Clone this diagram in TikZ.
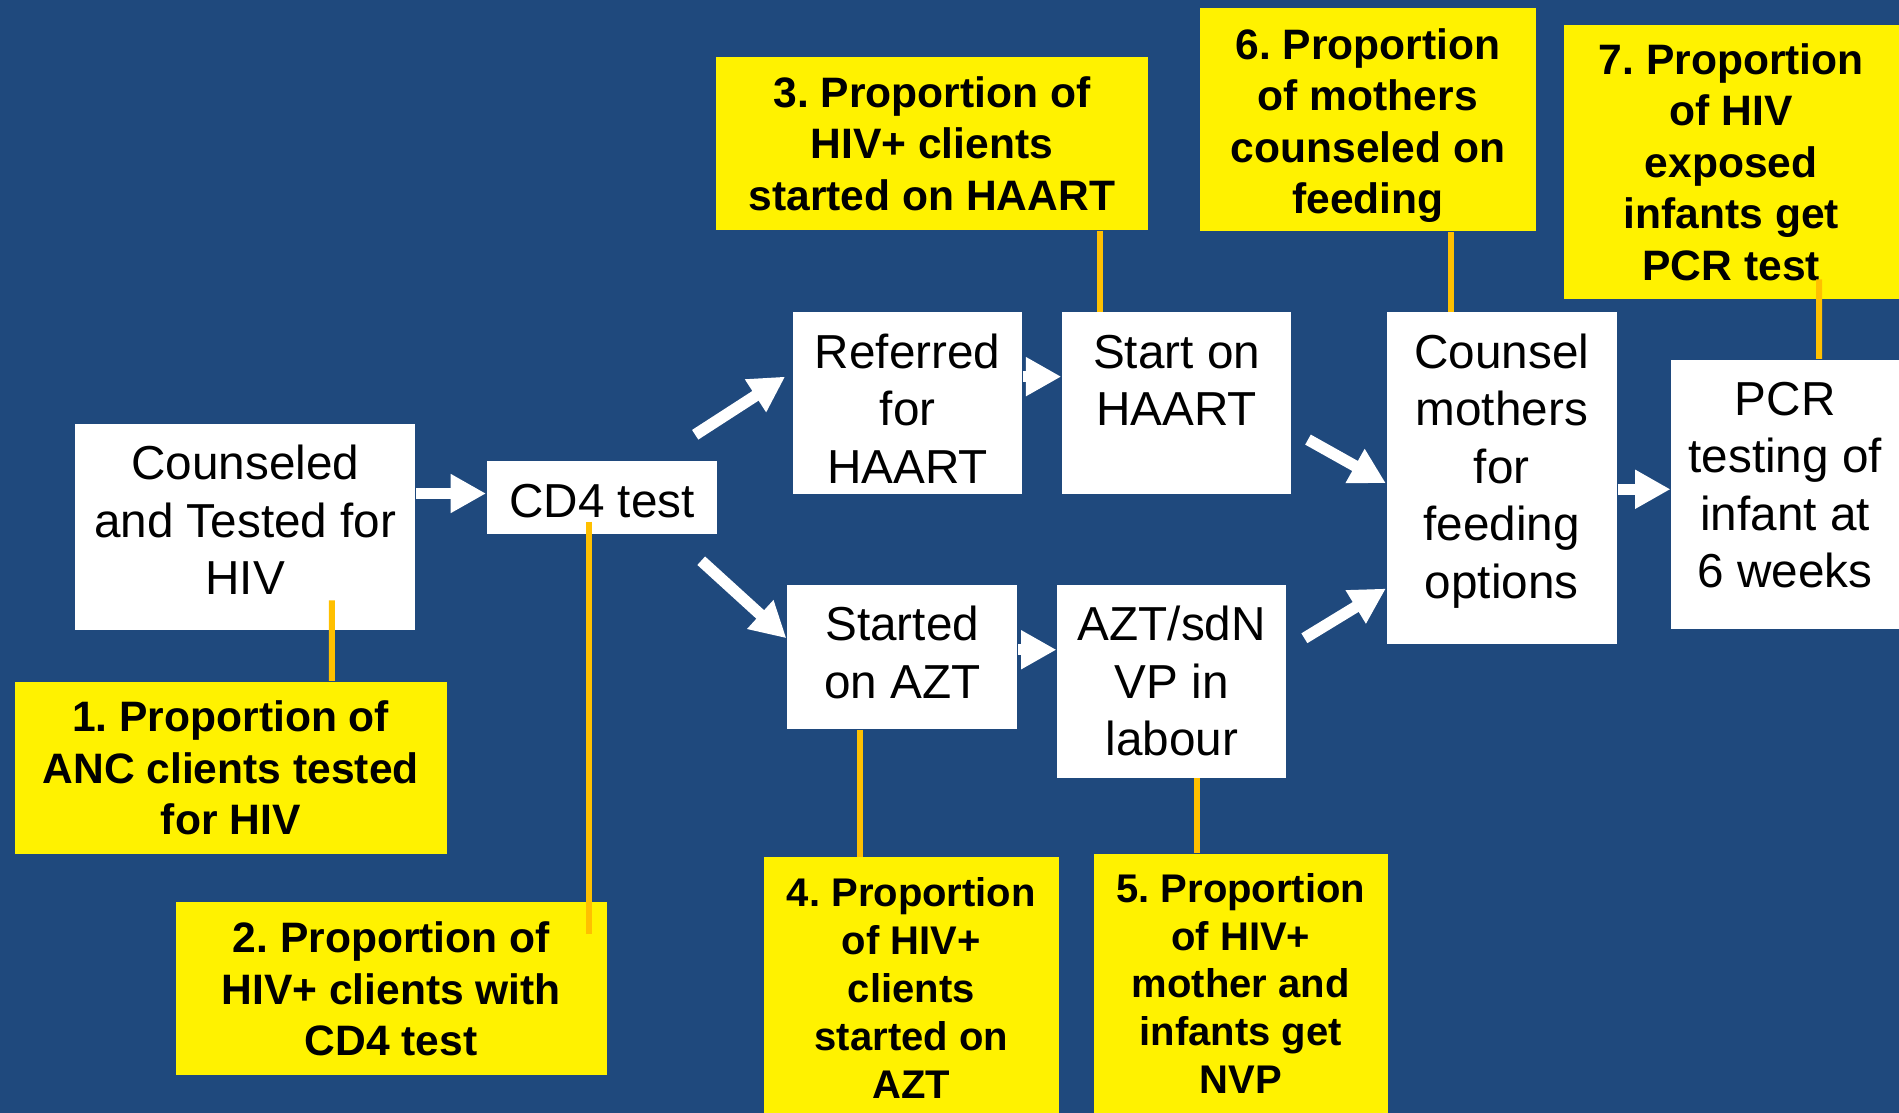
\documentclass[tikz,border=0pt]{standalone}
\usepackage{fontspec}
\setmainfont{Liberation Sans}
\frenchspacing
\usetikzlibrary{arrows.meta,calc}
\definecolor{bg}{HTML}{1F497D}
\definecolor{gold}{HTML}{FFC000}
\newcommand{\wtext}[3]{\parbox[c][#2][t]{#1}{\centering\fontsize{11.2pt}{13.5pt}\selectfont\rule{0pt}{13.1pt}#3\par}}
\tikzset{
  wbox/.style={fill=white, inner sep=0pt, text=black},
  ybox/.style={fill=yellow, inner sep=0pt, align=center, text=black,
    font=\bfseries\fontsize{10pt}{12.1pt}\selectfont},
  ysmall/.style={font=\bfseries\fontsize{9.4pt}{11.25pt}\selectfont},
  arr/.style={draw=white, line width=2.7pt, -{Triangle[length=8.3pt,width=8.6pt]}},
  yl/.style={draw=gold, line width=1.4pt}
}
\begin{document}
\begin{tikzpicture}[x=1cm,y=1cm]
\useasboundingbox (0,0) rectangle (15.68,-9.19);
\clip (0,0) rectangle (15.68,-9.19);
\fill[bg] (0,0) rectangle (15.68,-9.19);

% white process boxes
\node[wbox] (ct) at (2.025,-4.35) {\wtext{2.81cm}{1.70cm}{Counseled\\and Tested for\\HIV}};
\node[wbox] (cd4) at (4.97,-4.11) {\wtext{1.90cm}{0.60cm}{CD4 test}};
\node[wbox] (ref) at (7.495,-3.33) {\wtext{1.89cm}{1.50cm}{Referred\\for\\HAART}};
\node[wbox] (start) at (9.715,-3.33) {\wtext{1.89cm}{1.50cm}{Start on\\HAART}};
\node[wbox] (azt) at (7.45,-5.425) {\wtext{1.90cm}{1.19cm}{Started\\on AZT}};
\node[wbox] (nvp) at (9.675,-5.625) {\wtext{1.89cm}{1.59cm}{AZT/sdN\\VP in\\labour}};
\node[wbox] (cm) at (12.40,-3.95) {\wtext{1.90cm}{2.74cm}{Counsel\\mothers\\for\\feeding\\options}};
\node[wbox] (pcr) at (14.74,-4.08) {\wtext{1.88cm}{2.22cm}{PCR\\testing of\\infant at\\6 weeks}};

% yellow indicator boxes
\node[ybox, minimum width=3.57cm, minimum height=1.42cm] (y1) at (1.905,-6.34) {1. Proportion of\\ANC clients tested\\for HIV};
\node[ybox, minimum width=3.56cm, minimum height=1.43cm] (y2) at (3.23,-8.165) {2. Proportion of\\HIV+ clients with\\CD4 test};
\node[ybox, minimum width=3.57cm, minimum height=1.43cm] (y3) at (7.695,-1.185) {3. Proportion of\\HIV+ clients\\started on HAART};
\node[ybox, ysmall, minimum width=2.43cm, minimum height=2.16cm] (y4) at (7.525,-8.16) {4. Proportion\\of HIV+\\clients\\started on\\AZT};
\node[ybox, ysmall, minimum width=2.43cm, minimum height=2.14cm] (y5) at (10.245,-8.12) {5. Proportion\\of HIV+\\mother and\\infants get\\NVP};
\node[ybox, minimum width=2.77cm, minimum height=1.84cm] (y6) at (11.295,-0.99) {\rule{0pt}{10pt}6. Proportion\\of mothers\\counseled on\\feeding};
\node[ybox, minimum width=2.77cm, minimum height=2.26cm] (y7) at (14.295,-1.34) {7. Proportion\\of HIV\\exposed\\infants get\\PCR test};

% arrow start points
\coordinate (a1s) at (5.74,-3.59);
\coordinate (a2s) at (5.79,-4.63);
\coordinate (a3s) at (10.80,-3.63);
\coordinate (a4s) at (10.77,-5.27);

% arrows
\draw[arr] ([yshift=0.035cm]cd4.west -| ct.east) -- ([yshift=0.035cm]cd4.west);
\draw[arr] (a1s) -- ([shift={(-0.06,0.22)}]ref.west);
\draw[arr] (a2s) -- ([yshift=0.155cm]azt.west);
\draw[arr] ([yshift=0.22cm]ref.east) -- ([yshift=0.22cm]start.west);
\draw[arr] ([yshift=0.06cm]azt.east) -- ([yshift=0.06cm]azt.east -| nvp.west);
\draw[arr] (a3s) -- ([yshift=-0.04cm]cm.west);
\draw[arr] (a4s) -- ([yshift=-0.91cm]cm.west);
\draw[arr] ([yshift=0.04cm]pcr.west -| cm.east) -- ([yshift=0.04cm]pcr.west);

% gold leader lines
\draw[yl] ([shift={(0.715,0.25)}]ct.south) -- ([xshift=0.715cm]ct.south |- y1.north);
\draw[yl] ([shift={(-0.11,0.11)}]cd4.south) -- ([shift={(-0.11,-0.27)}]cd4.south |- y2.north);
\draw[yl] ([xshift=-0.635cm]y3.south -| start.north) -- ([xshift=-0.635cm]start.north);
\draw[yl] ([xshift=-0.35cm]azt.south) -- ([xshift=-0.35cm]azt.south |- y4.north);
\draw[yl] ([xshift=0.205cm]nvp.south) -- ([xshift=0.205cm]nvp.south |- y5.north);
\draw[yl] ([xshift=-0.42cm]y6.south -| cm.north) -- ([xshift=-0.42cm]cm.north);
\draw[yl] ([shift={(0.28,0.17)}]y7.south -| pcr.north) -- ([xshift=0.28cm]pcr.north);
\end{tikzpicture}
\end{document}
